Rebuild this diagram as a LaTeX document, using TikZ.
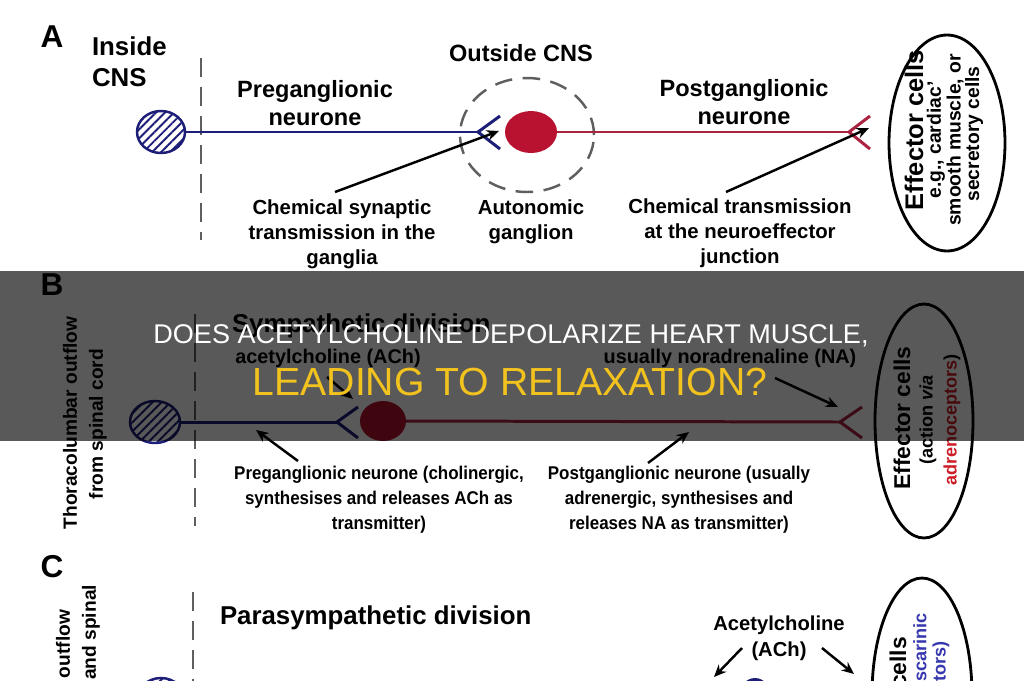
\documentclass[tikz,border=0pt]{standalone}
\usepackage{fontspec}
\setmainfont{Liberation Sans}
\newfontfamily\narrowbf[FakeStretch=0.92]{Liberation Sans}
\usetikzlibrary{arrows.meta,patterns.meta,shapes.geometric}
\definecolor{navyc}{RGB}{28,30,120}
\definecolor{redc}{RGB}{185,18,48}
\definecolor{redline}{RGB}{170,35,65}
\definecolor{dashg}{RGB}{95,95,95}
\definecolor{titley}{RGB}{242,194,30}
\definecolor{bluetxt}{RGB}{55,55,175}
\definecolor{redtxt}{RGB}{205,30,40}
\newcommand\fsz[2]{\fontsize{#1}{#2}\selectfont}
\begin{document}
\begin{tikzpicture}[x=0.02cm,y=-0.02cm,
  every node/.style={inner sep=0pt, outer sep=0pt},
  panel/.style={font=\bfseries\fsz{18pt}{20pt}},
  insidetxt/.style={font=\bfseries\fsz{14.7pt}{17.6pt}, align=left},
  neurtxt/.style={font=\bfseries\fsz{13.4pt}{15.9pt}, align=center},
  captxt/.style={font=\bfseries\fsz{11.6pt}{14.2pt}, align=center},
  divtxt/.style={font=\bfseries\fsz{14.7pt}{17pt}},
  transtxt/.style={font=\bfseries\fsz{11.3pt}{14.5pt}, align=center},
  capB/.style={font=\narrowbf\bfseries\fsz{10.5pt}{14.2pt}, align=center},
  rottxt/.style={rotate=90, font=\bfseries\fsz{10.9pt}{13pt}},
  effbig/.style={rotate=90, font=\bfseries\fsz{#1}{#1}},
  effsmall/.style={rotate=90, font=\bfseries\fsz{#1}{#1}},
  axon/.style={line width=1.7pt},
  pointer/.style={line width=1.4pt, -{Stealth[length=7pt,width=6pt]}},
  cnsline/.style={draw=dashg, line width=1.6pt, dash pattern=on 11pt off 5.5pt},
  gangl/.style={ellipse, draw=dashg, line width=1.4pt, dash pattern=on 10pt off 6pt, minimum width=2.68cm, minimum height=2.28cm},
  hatchcell/.style={ellipse, draw=navyc, line width=1.4pt, pattern={Lines[angle=45,distance=3.6pt,line width=1.1pt]}, pattern color=navyc},
  redcell/.style={ellipse, fill=redc},
  bluecell/.style={ellipse, fill=navyc},
  effector/.style={ellipse, draw=black, line width=1.6pt},
  title1/.style={font=\fsz{15.4pt}{18pt}, text=white},
  title2/.style={font=\fsz{22.3pt}{26pt}, text=titley}
]
\useasboundingbox (0,0) rectangle (1024,680);
\clip (0,0) rectangle (1024,680);
\fill[white] (0,0) rectangle (1024,680);

% ---------------- Panel A ----------------
\node[panel] (labA) at (52,37) {A};
\node[insidetxt, anchor=west] (inside) at (92,62) {Inside\\CNS};
\node[neurtxt] (outside) at (521,53) {Outside CNS};
\coordinate (dA1) at (201,58);
\coordinate (dA2) at (201,240);
\draw[cnsline] (dA1) -- (dA2);
\node[gangl] (gang) at (527,135) {};
\node[hatchcell, minimum width=0.96cm, minimum height=0.84cm] (somaA) at (161,132) {};
\node[redcell, minimum width=1.04cm, minimum height=0.84cm] (redA) at (531,132) {};
\coordinate (forkA) at (478,132);
\coordinate (forkAu) at (500,116);
\coordinate (forkAl) at (500,149);
\coordinate (forkR) at (849,132);
\coordinate (forkRu) at (870,116);
\coordinate (forkRl) at (870,149);
\draw[axon, navyc] (somaA.east) -- (forkA);
\draw[axon, navyc] (forkAu) -- (forkA) -- (forkAl);
\draw[axon, redline] (redA.east) -- (forkR);
\draw[axon, redline] (forkRu) -- (forkR) -- (forkRl);
\node[neurtxt] (preA) at (315,103) {Preganglionic\\neurone};
\node[neurtxt] (postA) at (744,102) {Postganglionic\\neurone};
\node[captxt] (chemA) at (342,234) {Chemical synaptic\\transmission in the\\ganglia};
\node[captxt] (autA) at (531,222) {Autonomic\\ganglion};
\node[captxt] (chemB) at (740,233) {Chemical transmission\\at the neuroeffector\\junction};
\coordinate (a1s) at (335,192);
\coordinate (a1e) at (499,131);
\coordinate (a2s) at (726,192);
\coordinate (a2e) at (869,128);
\draw[pointer] (a1s) -- (a1e);
\draw[pointer] (a2s) -- (a2e);
\node[effector, minimum width=2.32cm, minimum height=4.32cm] (effA) at (947,143) {};
\node[effbig=14.5pt] (effA1) at (914,130) {Effector cells};
\node[effsmall=11pt] (effA2) at (936,140) {e.g., cardiac'};
\node[effsmall=11pt] (effA3) at (955,140) {smooth muscle, or};
\node[effsmall=11pt] (effA4) at (974,134) {secretory cells};

% ---------------- Panel B ----------------
\node[panel] (labB) at (52,285) {B};
\node[rottxt] (thor1) at (70,423) {Thoracolumbar outflow};
\node[rottxt] (thor2) at (98,424) {from spinal cord};
\coordinate (dB1) at (195,314);
\coordinate (dB2) at (195,526);
\draw[cnsline] (dB1) -- (dB2);
\node[divtxt, anchor=west] (symp) at (232,326) {Sympathetic division};
\node[transtxt] (achB) at (328,358) {acetylcholine (ACh)};
\node[transtxt] (naB) at (730,358) {usually noradrenaline (NA)};
\node[hatchcell, minimum width=1.0cm, minimum height=0.84cm] (somaB) at (155,422) {};
\node[redcell, minimum width=0.92cm, minimum height=0.8cm] (redB) at (383,421) {};
\coordinate (forkB) at (337,422);
\coordinate (forkBu) at (358,407);
\coordinate (forkBl) at (358,438);
\coordinate (forkBR) at (840,422);
\coordinate (forkBRu) at (862,407);
\coordinate (forkBRl) at (862,438);
\draw[axon, navyc] (somaB.east) -- (forkB);
\draw[axon, navyc] (forkBu) -- (forkB) -- (forkBl);
\draw[axon, redline] (redB.east) -- (forkBR);
\draw[axon, redline] (forkBRu) -- (forkBR) -- (forkBRl);
\coordinate (b1s) at (327,377);
\coordinate (b1e) at (353,399);
\coordinate (b2s) at (775,378);
\coordinate (b2e) at (838,407);
\coordinate (b3s) at (298,461);
\coordinate (b3e) at (256,430);
\coordinate (b4s) at (648,463);
\coordinate (b4e) at (689,432);
\draw[pointer] (b1s) -- (b1e);
\draw[pointer] (b2s) -- (b2e);
\draw[pointer] (b3s) -- (b3e);
\draw[pointer] (b4s) -- (b4e);
\node[capB] (preB) at (379,500) {Preganglionic neurone (cholinergic,\\synthesises and releases ACh as\\transmitter)};
\node[capB] (postB) at (679,500) {Postganglionic neurone (usually\\adrenergic, synthesises and\\releases NA as transmitter)};
\node[effector, minimum width=1.96cm, minimum height=4.68cm] (effB) at (924,421) {};
\node[effbig=13pt] (effB1) at (902,418) {Effector cells};
\node[effsmall=10.3pt] (effB2) at (928,420) {(action \textit{via}};
\node[effsmall=10.3pt] (effB3) at (952,420) {\textcolor{redtxt}{adrenoceptors})};

% ---------------- Panel C ----------------
\node[panel] (labC) at (52,567) {C};
\node[rottxt, anchor=east] (cra1) at (63,610) {outflow};
\node[rottxt, anchor=east] (cra2) at (91,585) {and spinal};
\coordinate (dC1) at (193,592);
\coordinate (dC2) at (193,690);
\draw[cnsline] (dC1) -- (dC2);
\node[divtxt, anchor=west] (para) at (220,618) {Parasympathetic division};
\node[transtxt, font=\bfseries\fsz{11.5pt}{14.7pt}] (achC) at (779,638) {Acetylcholine\\(ACh)};
\node[hatchcell, minimum width=0.96cm, minimum height=0.88cm] (somaC) at (161,700) {};
\node[bluecell, minimum width=0.7cm, minimum height=0.88cm] (gangC) at (755,700) {};
\coordinate (c1s) at (742,648);
\coordinate (c1e) at (714,677);
\coordinate (c2s) at (822,648);
\coordinate (c2e) at (854,674);
\draw[pointer] (c1s) -- (c1e);
\draw[pointer] (c2s) -- (c2e);
\node[effector, minimum width=2.0cm, minimum height=4.68cm] (effC) at (922,695) {};
\node[effbig=13pt, anchor=east] (effC1) at (898,637) {Effector cells};
\node[effsmall=10.3pt, anchor=east, text=bluetxt] (effC2) at (920,613) {muscarinic};
\node[effsmall=10.3pt, anchor=east, text=bluetxt] (effC3) at (941,641) {receptors)};

% ---------------- Title banner ----------------
\fill[black, opacity=0.65] (0,271) rectangle (1024,441);
\node[title1, anchor=base] (t1) at (511,343) {DOES ACETYLCHOLINE DEPOLARIZE HEART MUSCLE,};
\node[title2, anchor=base] (t2) at (510,395) {LEADING TO RELAXATION?};
\end{tikzpicture}
\end{document}
